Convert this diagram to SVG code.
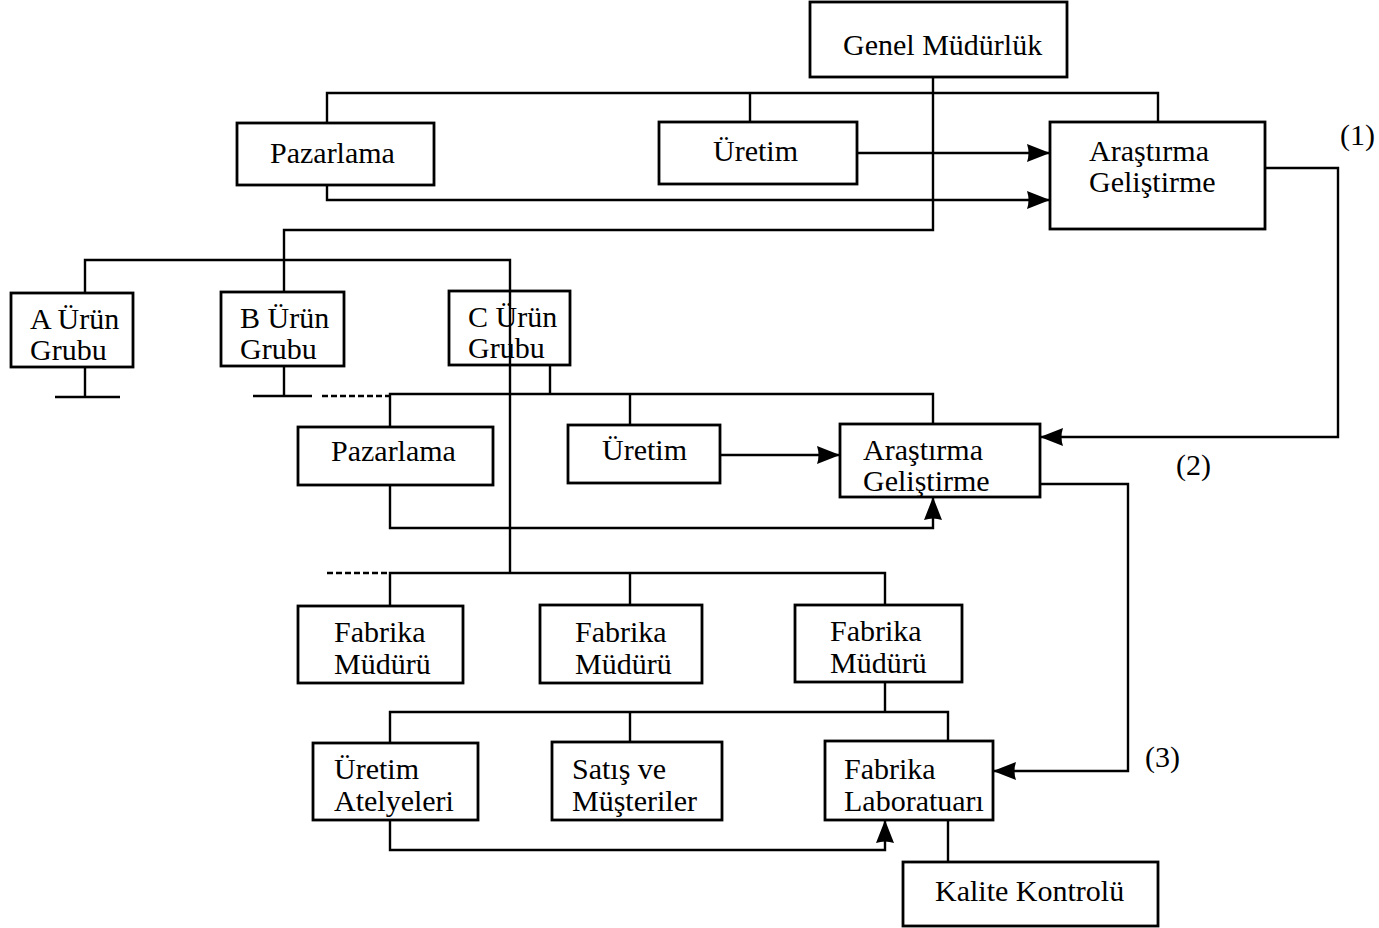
<svg xmlns="http://www.w3.org/2000/svg" width="1379" height="928" viewBox="0 0 1379 928">
  <style>
    .box { fill: #fff; stroke: #000; stroke-width: 2.8; }
    .ln { fill: none; stroke: #000; stroke-width: 2.4; }
    .dash { fill: none; stroke: #000; stroke-width: 2.4; stroke-dasharray: 6 3; }
    text { font-family: "Liberation Serif", "Times New Roman", serif; font-size: 30px; fill: #000; }
  </style>
  <defs>
    <marker id="arrow" markerUnits="userSpaceOnUse" markerWidth="24" markerHeight="20" refX="23" refY="10" orient="auto">
      <path d="M0,1 L23,10 L0,19 Q3,10 0,1 Z" fill="#000"/>
    </marker>
  </defs>
  <rect width="1379" height="928" fill="#fff"/>

  <g id="connectors">
    <!-- Genel Müdürlük trunk to product groups -->
    <path class="ln" d="M933,77 V230 H284 V293"/>
    <path class="ln" d="M85,293 V260 H510 V573"/>
    <!-- head office departments -->
    <path class="ln" d="M327,123 V93 H1158 V122"/>
    <path class="ln" d="M750,93 V122"/>
    <path class="ln" d="M857,153 H1050" marker-end="url(#arrow)"/>
    <path class="ln" d="M327,185 V200 H1050" marker-end="url(#arrow)"/>
    <!-- (1) feedback to group R&D -->
    <path class="ln" d="M1265,168 H1338 V437 H1040" marker-end="url(#arrow)"/>
    <!-- A / B stubs -->
    <path class="ln" d="M85,367 V397 M55,397 H120"/>
    <path class="ln" d="M284,366 V396 M253,396 H312"/>
    <path class="dash" d="M322,396 H390"/>
    <!-- C group departments -->
    <path class="ln" d="M550,365 V394"/>
    <path class="ln" d="M390,427 V394 H933 V424"/>
    <path class="ln" d="M630,394 V425"/>
    <path class="ln" d="M720,455 H840" marker-end="url(#arrow)"/>
    <path class="ln" d="M390,485 V528 H933 V497" marker-end="url(#arrow)"/>
    <!-- (2) feedback to factory laboratory -->
    <path class="ln" d="M1040,484 H1128 V771 H993" marker-end="url(#arrow)"/>
    <!-- factory managers -->
    <path class="dash" d="M327,573 H390"/>
    <path class="ln" d="M390,606 V573 H885 V605"/>
    <path class="ln" d="M630,573 V605"/>
    <!-- factory units -->
    <path class="ln" d="M885,682 V712"/>
    <path class="ln" d="M390,743 V712 H948 V741"/>
    <path class="ln" d="M630,712 V742"/>
    <path class="ln" d="M390,820 V850 H885 V820" marker-end="url(#arrow)"/>
    <path class="ln" d="M948,820 V862"/>
  </g>

  <g id="genel-mudurluk">
    <rect class="box" x="810" y="2" width="257" height="75"/>
    <text x="843" y="55">Genel Müdürlük</text>
  </g>
  <g id="pazarlama-1">
    <rect class="box" x="237" y="123" width="197" height="62"/>
    <text x="270" y="163">Pazarlama</text>
  </g>
  <g id="uretim-1">
    <rect class="box" x="659" y="122" width="198" height="62"/>
    <text x="713" y="161">Üretim</text>
  </g>
  <g id="arge-1">
    <rect class="box" x="1050" y="122" width="215" height="107"/>
    <text x="1089" y="161">Araştırma</text>
    <text x="1089" y="192">Geliştirme</text>
  </g>
  <g id="label-1"><text x="1340" y="145">(1)</text></g>

  <g id="a-urun">
    <rect class="box" x="11" y="293" width="122" height="74"/>
    <text x="30" y="329">A Ürün</text>
    <text x="30" y="360">Grubu</text>
  </g>
  <g id="b-urun">
    <rect class="box" x="221" y="292" width="123" height="74"/>
    <text x="240" y="328">B Ürün</text>
    <text x="240" y="359">Grubu</text>
  </g>
  <g id="c-urun">
    <rect class="box" x="449" y="291" width="121" height="74" style="fill:none"/>
    <text x="468" y="327">C Ürün</text>
    <text x="468" y="358">Grubu</text>
  </g>

  <g id="pazarlama-2">
    <rect class="box" x="298" y="427" width="195" height="58"/>
    <text x="331" y="461">Pazarlama</text>
  </g>
  <g id="uretim-2">
    <rect class="box" x="568" y="425" width="152" height="58"/>
    <text x="602" y="460">Üretim</text>
  </g>
  <g id="arge-2">
    <rect class="box" x="840" y="424" width="200" height="73"/>
    <text x="863" y="460">Araştırma</text>
    <text x="863" y="491">Geliştirme</text>
  </g>
  <g id="label-2"><text x="1176" y="475">(2)</text></g>

  <g id="fabrika-mudur-1">
    <rect class="box" x="298" y="606" width="165" height="77"/>
    <text x="334" y="642">Fabrika</text>
    <text x="334" y="674">Müdürü</text>
  </g>
  <g id="fabrika-mudur-2">
    <rect class="box" x="540" y="605" width="162" height="78"/>
    <text x="575" y="642">Fabrika</text>
    <text x="575" y="674">Müdürü</text>
  </g>
  <g id="fabrika-mudur-3">
    <rect class="box" x="795" y="605" width="167" height="77"/>
    <text x="830" y="641">Fabrika</text>
    <text x="830" y="673">Müdürü</text>
  </g>

  <g id="uretim-atelyeleri">
    <rect class="box" x="313" y="743" width="165" height="77"/>
    <text x="334" y="779">Üretim</text>
    <text x="334" y="811">Atelyeleri</text>
  </g>
  <g id="satis-musteriler">
    <rect class="box" x="552" y="742" width="170" height="78"/>
    <text x="572" y="779">Satış ve</text>
    <text x="572" y="811">Müşteriler</text>
  </g>
  <g id="fabrika-laboratuari">
    <rect class="box" x="825" y="741" width="168" height="79"/>
    <text x="844" y="779">Fabrika</text>
    <text x="844" y="811">Laboratuarı</text>
  </g>
  <g id="label-3"><text x="1145" y="767">(3)</text></g>

  <g id="kalite-kontrolu">
    <rect class="box" x="903" y="862" width="255" height="64"/>
    <text x="935" y="901">Kalite Kontrolü</text>
  </g>
</svg>
